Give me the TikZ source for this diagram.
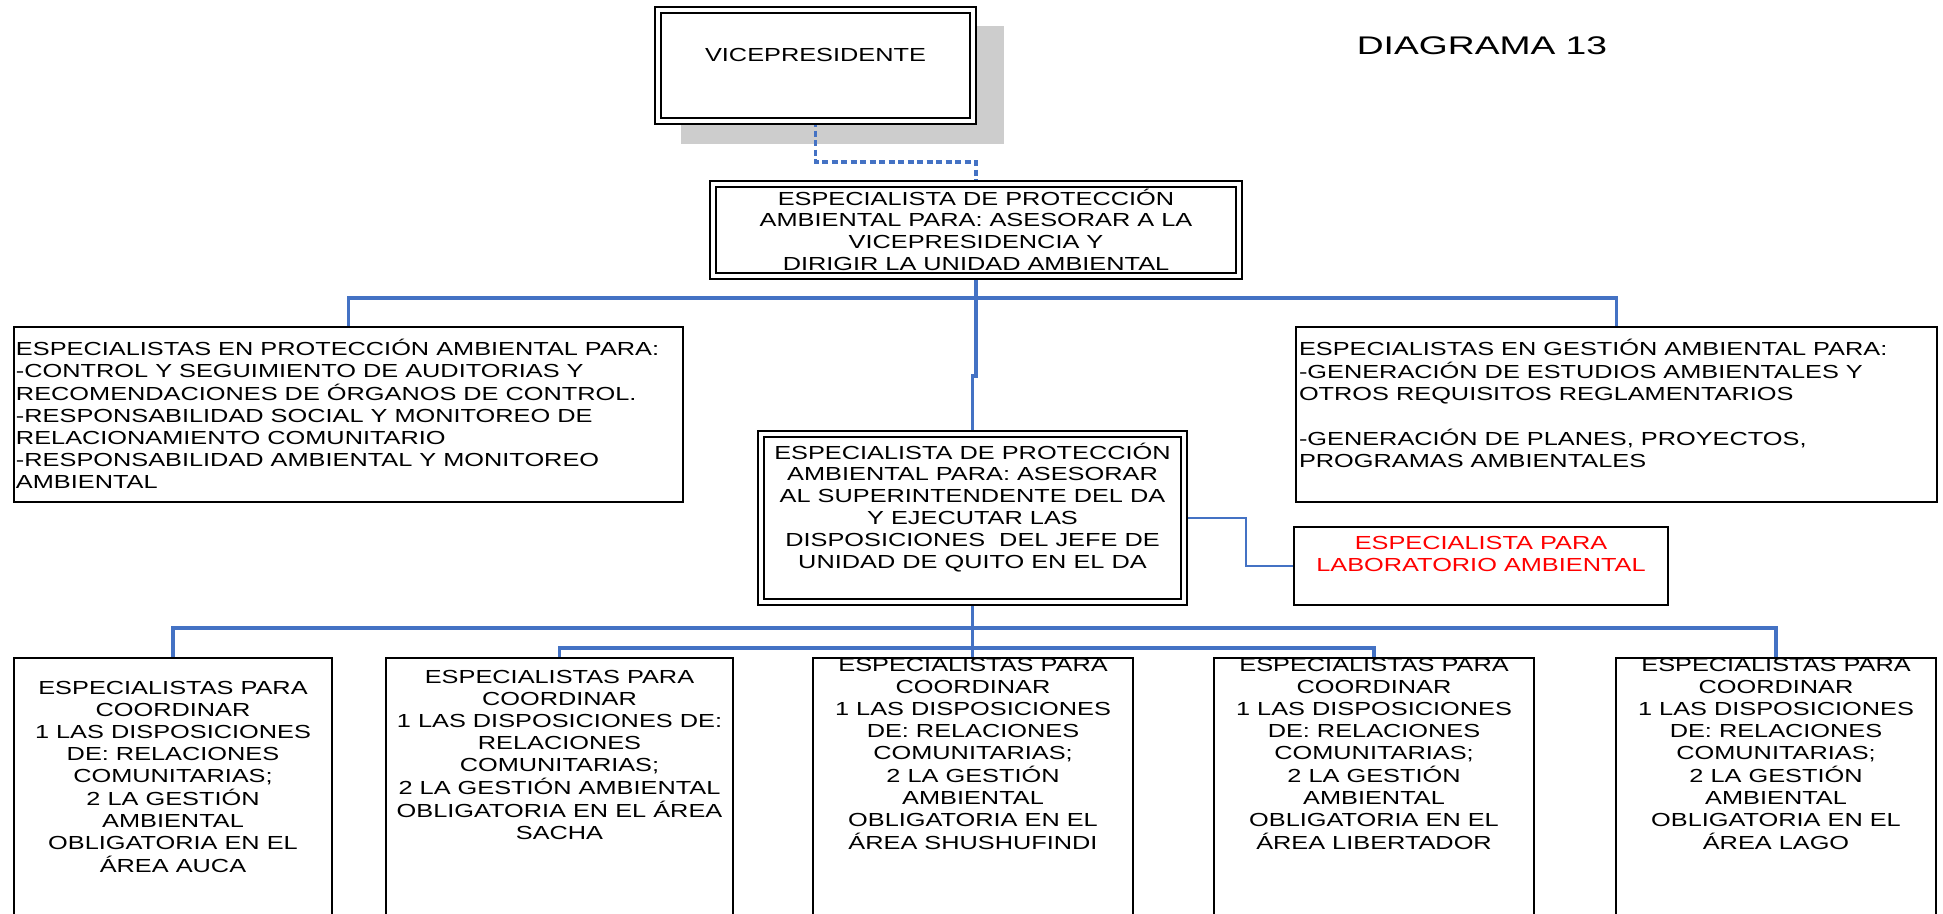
\documentclass[tikz,border=0pt]{standalone}
\usepackage{fontspec}
\setmainfont{Liberation Sans}
\usepackage{graphicx}
\usetikzlibrary{backgrounds}

\definecolor{linkblue}{RGB}{68,114,196}
\definecolor{shadowgray}{RGB}{205,205,205}
\definecolor{labred}{RGB}{255,0,0}

% wide-set text blocks (centred / left aligned); baseline = first line
\newcommand{\ctext}[1]{\scalebox{1.34}[1]{\begin{tabular}[t]{@{}c@{}}#1\end{tabular}}}
\newcommand{\ltext}[1]{\scalebox{1.34}[1]{\begin{tabular}[t]{@{}l@{}}#1\end{tabular}}}

\begin{document}
\begin{tikzpicture}[x=1pt,y=-1pt,
  every node/.style={outer sep=0pt},
  box/.style={draw=black, line width=2pt, fill=white, anchor=north west, inner sep=0pt},
  dbox/.style={draw=black, double=white, double distance=3.8pt, line width=1.7pt,
               fill=white, anchor=north west, inner sep=0pt},
  txt/.style={inner sep=0pt, anchor=base, font=\fontsize{18.9}{21.9}\selectfont},
  ltxt/.style={inner sep=0pt, anchor=base west, font=\fontsize{18.9}{21.9}\selectfont},
  conn/.style={draw=linkblue, line width=3.4pt},
  thinconn/.style={draw=linkblue, line width=1.6pt},
  dashconn/.style={draw=linkblue, line width=3.2pt, dash pattern=on 6pt off 3.5pt},
]
\useasboundingbox (0,0) rectangle (1943,913);
\clip (0,0) rectangle (1943,913);

% ---- top: vice-president and title
\node[dbox, minimum width=315pt, minimum height=111pt] (vp) at (658,10) {};
\node[txt] (vp-t) at (815.5,61.7) {\ctext{VICEPRESIDENTE}};
\node[inner sep=0pt, anchor=base, font=\fontsize{25.5}{29}\selectfont] (title) at (1482,54)
  {\scalebox{1.46}[1]{DIAGRAMA 13}};

% ---- environmental unit head
\node[dbox, minimum width=526pt, minimum height=92pt] (asesor) at (713,184) {};
\node[txt] (asesor-t) at (976,205) {\ctext{ESPECIALISTA DE PROTECCIÓN\\AMBIENTAL PARA: ASESORAR A LA\\VICEPRESIDENCIA Y\\DIRIGIR LA UNIDAD AMBIENTAL}};

% ---- second level
\node[box, minimum width=669pt, minimum height=175pt] (protec) at (14,327) {};
\node[ltxt] (protec-t) at (16,355.7) {\ltext{ESPECIALISTAS EN PROTECCIÓN AMBIENTAL PARA:\\-CONTROL Y SEGUIMIENTO DE AUDITORIAS Y\\RECOMENDACIONES DE ÓRGANOS DE CONTROL.\\-RESPONSABILIDAD SOCIAL Y MONITOREO DE\\RELACIONAMIENTO COMUNITARIO\\-RESPONSABILIDAD AMBIENTAL Y MONITOREO\\AMBIENTAL}};

\node[box, minimum width=641pt, minimum height=175pt] (gestion) at (1296,327) {};
\node[ltxt] (gestion-t) at (1299,355.7) {\ltext{ESPECIALISTAS EN GESTIÓN AMBIENTAL PARA:\\-GENERACIÓN DE ESTUDIOS AMBIENTALES Y\\OTROS REQUISITOS REGLAMENTARIOS\\ \\-GENERACIÓN DE PLANES, PROYECTOS,\\PROGRAMAS AMBIENTALES}};

\node[dbox, minimum width=423pt, minimum height=168pt] (superint) at (761,434) {};
\node[txt] (superint-t) at (972.5,459) {\ctext{ESPECIALISTA DE PROTECCIÓN\\AMBIENTAL PARA: ASESORAR\\AL SUPERINTENDENTE DEL DA\\Y EJECUTAR LAS\\DISPOSICIONES\ \ DEL JEFE DE\\UNIDAD DE QUITO EN EL DA}};

\node[box, minimum width=374pt, minimum height=78pt] (lab) at (1294,527) {};
\node[txt, text=labred] (lab-t) at (1481,549.7) {\ctext{ESPECIALISTA PARA\\LABORATORIO AMBIENTAL}};

% ---- area coordinators (run off the lower edge)
\node[box, minimum width=318pt, minimum height=280pt] (auca) at (14,658) {};
\node[box, minimum width=347pt, minimum height=280pt] (sacha) at (386,658) {};
\node[box, minimum width=320pt, minimum height=280pt] (shushufindi) at (813,658) {};
\node[box, minimum width=320pt, minimum height=280pt] (libertador) at (1214,658) {};
\node[box, minimum width=320pt, minimum height=280pt] (lago) at (1616,658) {};

\begin{scope}
  \clip (auca.north west) rectangle (auca.south east);
  \node[txt] (auca-t) at (173,694.7) {\ctext{ESPECIALISTAS PARA\\COORDINAR\\1 LAS DISPOSICIONES\\DE: RELACIONES\\COMUNITARIAS;\\2 LA GESTIÓN\\AMBIENTAL\\OBLIGATORIA EN EL\\ÁREA AUCA}};
\end{scope}
\begin{scope}
  \clip (sacha.north west) rectangle (sacha.south east);
  \node[txt] (sacha-t) at (559.5,683.7) {\ctext{ESPECIALISTAS PARA\\COORDINAR\\1 LAS DISPOSICIONES DE:\\RELACIONES\\COMUNITARIAS;\\2 LA GESTIÓN AMBIENTAL\\OBLIGATORIA EN EL ÁREA\\SACHA}};
\end{scope}
\begin{scope}
  \clip (shushufindi.north west) rectangle (shushufindi.south east);
  \node[txt] (shushufindi-t) at (973,671.7) {\ctext{ESPECIALISTAS PARA\\COORDINAR\\1 LAS DISPOSICIONES\\DE: RELACIONES\\COMUNITARIAS;\\2 LA GESTIÓN\\AMBIENTAL\\OBLIGATORIA EN EL\\ÁREA SHUSHUFINDI}};
\end{scope}
\begin{scope}
  \clip (libertador.north west) rectangle (libertador.south east);
  \node[txt] (libertador-t) at (1374,671.7) {\ctext{ESPECIALISTAS PARA\\COORDINAR\\1 LAS DISPOSICIONES\\DE: RELACIONES\\COMUNITARIAS;\\2 LA GESTIÓN\\AMBIENTAL\\OBLIGATORIA EN EL\\ÁREA LIBERTADOR}};
\end{scope}
\begin{scope}
  \clip (lago.north west) rectangle (lago.south east);
  \node[txt] (lago-t) at (1776,671.7) {\ctext{ESPECIALISTAS PARA\\COORDINAR\\1 LAS DISPOSICIONES\\DE: RELACIONES\\COMUNITARIAS;\\2 LA GESTIÓN\\AMBIENTAL\\OBLIGATORIA EN EL\\ÁREA LAGO}};
\end{scope}

% ---- shadow and connectors behind the boxes
\begin{scope}[on background layer]
  \fill[shadowgray] ([shift={(23,16)}]vp.north west) rectangle ([shift={(31,23)}]vp.south east);

  \coordinate (dashy) at (0,162);
  \draw[dashconn] (vp.south) -- (vp.south |- dashy) -| (asesor.north);

  \coordinate (busA) at (0,298);
  \draw[conn] (protec.north) -- (protec.north |- busA) -| (gestion.north);
  \coordinate (jog) at (0,376);
  \draw[conn] (asesor.south) -- (asesor.south |- jog) -| (superint.north);

  \coordinate (labx) at (1246,0);
  \draw[thinconn] (superint.east) -- (superint.east -| labx) |- (lab.west);

  \coordinate (busB) at (0,628);
  \coordinate (busC) at (0,648);
  \draw[conn] (auca.north) -- (auca.north |- busB) -| (lago.north);
  \draw[conn] (sacha.north) -- (sacha.north |- busC) -| (libertador.north);
  \draw[conn] (superint.south) -- (superint.south |- shushufindi.north);
\end{scope}
\end{tikzpicture}
\end{document}
